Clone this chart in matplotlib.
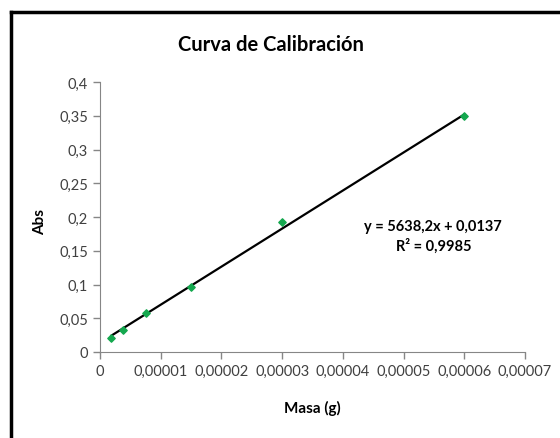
import matplotlib.pyplot as plt
from matplotlib.lines import Line2D
from matplotlib.ticker import FuncFormatter

masa = [0.000001875, 0.00000375, 0.0000075, 0.000015, 0.00003, 0.00006]
absorb = [0.021, 0.033, 0.058, 0.096, 0.193, 0.349]
slope = 5638.2
intercept = 0.0137
x_ticks = [0, 0.00001, 0.00002, 0.00003, 0.00004, 0.00005, 0.00006, 0.00007]
y_ticks = [0, 0.05, 0.1, 0.15, 0.2, 0.25, 0.3, 0.35, 0.4]

plt.rcParams['font.family'] = ['Lato', 'DejaVu Sans']

fig = plt.figure(figsize=(5.6, 4.39), dpi=100)
ax = fig.add_axes([0.1786, 0.1959, 0.7589, 0.615])

# trendline across the data range
x_fit = [masa[0], masa[-1]]
y_fit = [slope * v + intercept for v in x_fit]
ax.plot(x_fit, y_fit, color='black', lw=1.6, zorder=2)
ax.scatter(masa, absorb, marker='D', s=14, color='#14a84e', zorder=3)

ax.set_xlim(0, 0.00007)
ax.set_ylim(0, 0.4)
ax.set_xticks(x_ticks)
ax.set_yticks(y_ticks)

def comma(v, pos):
    if v == 0:
        return '0'
    s = ('%.5f' % v).rstrip('0').rstrip('.')
    return s.replace('.', ',')

ax.xaxis.set_major_formatter(FuncFormatter(comma))
ax.yaxis.set_major_formatter(FuncFormatter(comma))
ax.tick_params(colors='#868686', labelcolor='#404040', labelsize=10.5, length=5, width=1)
for side in ['top', 'right']:
    ax.spines[side].set_visible(False)
for side in ['left', 'bottom']:
    ax.spines[side].set_color('#868686')

ax.text(0.0000549, 0.172, 'y = 5638,2x + 0,0137\nR² = 0,9985', ha='center', va='center',
        fontsize=10.5, fontweight='bold', linespacing=1.45)

fig.text(0.484, 0.897, 'Curva de Calibración', ha='center', va='center', fontsize=14.5, fontweight='bold')
fig.text(0.557, 0.07, 'Masa (g)', ha='center', va='center', fontsize=11, fontweight='bold')
fig.text(0.071, 0.494, 'Abs', ha='center', va='center', fontsize=11, fontweight='bold', rotation=90)

# outer chart frame (only top and left edges are visible in the crop)
fig.add_artist(Line2D([0.0196, 0.0196], [0, 0.9715], transform=fig.transFigure, color='black', lw=2.5))
fig.add_artist(Line2D([0.0196, 1], [0.9715, 0.9715], transform=fig.transFigure, color='black', lw=2.5))

fig.savefig('out.png', dpi=100)
